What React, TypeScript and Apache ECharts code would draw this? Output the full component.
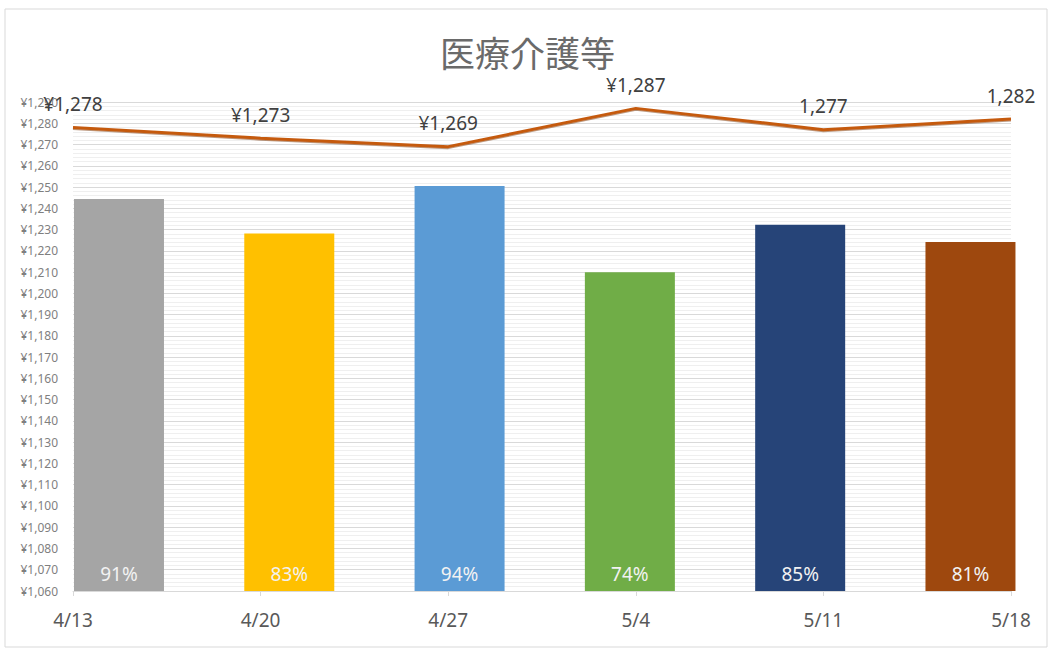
import React, { useEffect, useRef } from "react";
import * as echarts from "echarts";

const categories = ["4/13", "4/20", "4/27", "5/4", "5/11", "5/18"];
const lineValues = [1278, 1273, 1269, 1287, 1277, 1282];
const lineLabels = ["¥1,278", "¥1,273", "¥1,269", "¥1,287", "1,277", "1,282"];
const barPercents = [91, 83, 94, 74, 85, 81];
const barColors = ["#A5A5A5", "#FFC000", "#5B9BD5", "#70AD47", "#264478", "#9E480E"];
const yMin = 1060;
const yMax = 1290;
const yInterval = 10;

export default function App() {
  const ref = useRef<HTMLDivElement>(null);
  useEffect(() => {
    if (!ref.current) return;
    const chart = echarts.init(ref.current, null, { renderer: "svg" });
    const font = "'Noto Sans', 'Open Sans', sans-serif";
    chart.setOption({
      animation: false,
      backgroundColor: "#ffffff",
      title: {
        text: "医療介護等",
        left: "center",
        top: 29,
        textStyle: {
          fontFamily: "'Noto Sans CJK JP', sans-serif",
          fontSize: 35,
          fontWeight: "normal",
          color: "#6a6a6a",
        },
      },
      graphic: [
        {
          type: "rect",
          shape: { x: 5, y: 9, width: 1042, height: 638 },
          style: { fill: "none", stroke: "#d9d9d9", lineWidth: 1 },
          silent: true,
        },
      ],
      grid: { left: 73, right: 44, top: 102, bottom: 62 },
      xAxis: [
        {
          type: "category",
          data: categories,
          boundaryGap: false,
          axisLine: { show: true, lineStyle: { color: "#d9d9d9" } },
          axisTick: { show: true, length: 5, lineStyle: { color: "#d9d9d9" } },
          axisLabel: { margin: 19, fontSize: 19, color: "#595959", fontFamily: font },
          splitLine: { show: false },
        },
        {
          type: "value",
          min: -0.27,
          max: 5.238,
          show: false,
        },
      ],
      yAxis: [
        {
          type: "value",
          min: yMin,
          max: yMax,
          interval: yInterval,
          axisLine: { show: false },
          axisTick: { show: false },
          axisLabel: {
            fontSize: 12,
            color: "#7f7f7f",
            margin: 15,
            fontFamily: font,
            formatter: (v: number) => "¥" + v.toLocaleString("en-US"),
          },
          splitLine: { show: true, lineStyle: { color: "#d9d9d9", width: 1 } },
          minorTick: { show: false, splitNumber: 5 },
          minorSplitLine: { show: true, lineStyle: { color: "#efefef", width: 1 } },
        },
        {
          type: "value",
          min: 0,
          max: 113.5,
          show: false,
          splitLine: { show: false },
        },
      ],
      series: [
        {
          type: "bar",
          xAxisIndex: 1,
          yAxisIndex: 1,
          barWidth: 90,
          z: 2,
          data: barPercents.map((v, i) => ({
            value: [i, v],
            itemStyle: { color: barColors[i] },
          })),
          label: {
            show: true,
            position: "insideBottom",
            distance: 8,
            fontSize: 19,
            color: "#f2f2f2",
            fontFamily: font,
            formatter: (p: any) => p.value[1] + "%",
          },
        },
        {
          type: "line",
          xAxisIndex: 0,
          yAxisIndex: 0,
          z: 5,
          data: lineValues,
          symbol: "circle",
          symbolSize: 2,
          showSymbol: true,
          itemStyle: { color: "rgba(0,0,0,0)", borderWidth: 0 },
          lineStyle: {
            color: "#C55A11",
            width: 3,
            shadowColor: "rgba(120,50,0,0.5)",
            shadowBlur: 1,
            shadowOffsetY: 1,
          },
          label: {
            show: true,
            position: "top",
            distance: 13,
            fontSize: 19,
            color: "#404040",
            fontFamily: font,
            formatter: (p: any) => lineLabels[p.dataIndex],
          },
        },
      ],
    });
    return () => chart.dispose();
  }, []);
  return (
    <div
      ref={ref}
      style={{ position: "fixed", left: 0, top: 0, width: 1055, height: 653 }}
    />
  );
}
